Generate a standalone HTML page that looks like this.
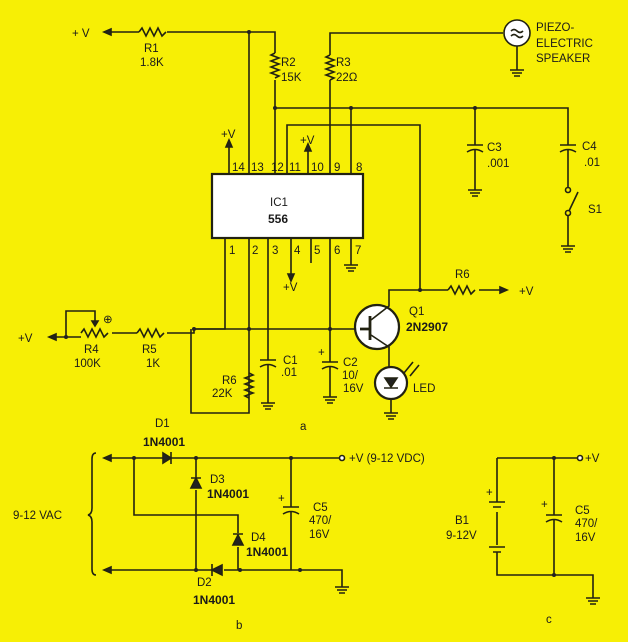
<!DOCTYPE html>
<html><head><style>
html,body{margin:0;padding:0;background:#fff}
svg{display:block}
text{font-family:"Liberation Sans",sans-serif;font-size:11.5px;fill:#1a1a1a}
.b{font-weight:bold;font-size:12px}
</style></head><body>
<svg width="639" height="642" viewBox="0 0 639 642" xmlns="http://www.w3.org/2000/svg">
<rect x="0" y="0" width="628" height="642" fill="#f7ef05"/>
<g stroke="#222211" stroke-width="1.6" fill="none">
<path d="M104 32 H139 M167 32 H275 V53 M275 80 V108 V174"/>
<path d="M104 32 l7 -3 v6 z" fill="#222"/>
<path d="M139 32 l3 -4 l4 8 l4 -8 l4 8 l4 -8 l4 8 l4 -4"/>
<path d="M249 32 V174"/>
<path d="M275 53 l-4 2 l8 3 l-8 3 l8 3 l-8 3 l8 3 l-8 3 l8 3 l-4 2"/>
<path d="M503 33 H330 V55 M330 80 V174"/>
<path d="M330 55 l-4 2 l8 3 l-8 3 l8 3 l-8 3 l8 3 l-8 3 l8 3 l-4 2"/>
<circle cx="517" cy="33" r="13" fill="#fff"/>
<path d="M511 31 q3 -3 6 0 t6 0 M511 36 q3 -3 6 0 t6 0"/>
<path d="M517 46 V70 M510 70 H524 M512 73 H522 M514 76 H520"/>
<path d="M275 108 H568 V145 M351 108 V174 M475 108 V145"/>
<path d="M467 145 H483 M467 152 q8 -5 16 0 M475 150 V190 M468 190 H482 M470 193 H480 M472 196 H478"/>
<path d="M560 145 H576 M560 152 q8 -5 16 0 M568 150 V187"/>
<circle cx="568" cy="190" r="2.5"/><circle cx="568" cy="213" r="2.5"/>
<path d="M569 211 L578 192 M568 216 V246 M561 246 H575 M563 249 H573 M565 252 H571"/>
<path d="M287 174 V125 H420 V290"/>
<rect x="212" y="174" width="151" height="64" fill="#fff" stroke-width="2.2"/>
<path d="M229 174 V146 M308 174 V150"/>
<path d="M229 140 l-3 7 h6 z M308 144 l-3 7 h6 z" fill="#222"/>
<path d="M225 238 V329 H194 M249 238 V413 H191 V329 M268 238 V360 M291 238 V275 M311 238 V263 M330 238 V362 M351 238 V265"/>
<path d="M291 281 l-3 -7 h6 z" fill="#222"/>
<path d="M344 265 H358 M346 268 H356 M348 271 H354"/>
<path d="M49 337 H81 M112 333 H137 M167 333 H194 V329 H360"/>
<path d="M49 337 l7 -3 v6 z" fill="#222"/>
<path d="M66 337 V311 H95 V326 M81 333 l3 -4 l4 8 l4 -8 l4 8 l4 -8 l4 8 l4 -4"/>
<path d="M95 326 l-3 -5 h6 z" fill="#222"/>
<path d="M137 333 l3 -4 l4 8 l4 -8 l4 8 l4 -8 l4 8 l4 -4"/>
<path d="M249 373 l4 2 l-8 3 l8 3 l-8 3 l8 3 l-8 3 l8 3 l-8 3 l4 2"/>
<path d="M260 360 H276 M260 367 q8 -5 16 0 M268 365 V403 M261 403 H275 M263 406 H273 M265 409 H271"/>
<path d="M322 362 H338 M322 369 q8 -5 16 0 M330 367 V397 M323 397 H337 M325 400 H335 M327 403 H333"/>
<circle cx="377" cy="327" r="22" fill="#fff" stroke-width="2.2"/>
<path d="M360 329 H370 M370 316 V340" stroke-width="2.8"/>
<path d="M371 320 L389 306 V290 H448 M371 335 L389 347 V367"/>
<path d="M479 290 H507 M448 290 l3 -4 l4 8 l4 -8 l4 8 l4 -8 l4 8 l4 -4"/>
<path d="M507 290 l-7 -3 v6 z" fill="#222"/>
<circle cx="391" cy="383" r="16" fill="#fff" stroke-width="2.2"/>
<path d="M385 378 h12 l-6 9 z" fill="#222"/>
<path d="M384 388 H398 M391 399 V413 M384 413 H398 M386 416 H396 M388 419 H394"/>
<path d="M404 373 L413 362 M410 376 L419 365"/>
<path d="M104 458 H163 M171 458 H340 M134 458 V515 H238 V533 M238 547 V570 M196 458 V478 M196 490 V570 M104 570 H212 M224 570 H342 V587 M291 458 V507 M291 512 V570"/>
<path d="M104 458 l7 -3 v6 z M104 570 l7 -3 v6 z" fill="#222"/>
<path d="M163 453 v10 l8 -5 z M196 478 l-5 10 h10 z M238 535 l-5 10 h10 z M212 570 l10 -5 v10 z" fill="#222"/>
<path d="M171 452 v12 M191 478 h10 M233 534 h10 M212 564 v12"/>
<path d="M283 507 H299 M283 514 q8 -5 16 0 M335 587 H349 M337 590 H347 M339 593 H345"/>
<circle cx="342" cy="458" r="2.5" fill="#fff"/>
<path d="M96 453 q-4 0 -4 6 V508 q0 6 -4 7 q4 1 4 7 V569 q0 6 4 6"/>
<path d="M497 458 H577 M554 458 V515 M554 520 V575 M497 458 V502 M497 552 V575 H593 V598 M489 502 H505 M493 507 H501 M497 512 V545 M489 547 H505 M493 552 H501 M546 515 H562 M546 522 q8 -5 16 0 M586 598 H600 M588 601 H598 M590 604 H596" />
<circle cx="580" cy="458" r="2.5" fill="#fff"/>
</g>
<g fill="#222">
<circle cx="249" cy="32" r="2"/><circle cx="275" cy="108" r="2"/><circle cx="351" cy="108" r="2"/><circle cx="475" cy="108" r="2"/>
<circle cx="194" cy="329" r="2"/><circle cx="249" cy="329" r="2"/><circle cx="330" cy="329" r="2"/><circle cx="420" cy="290" r="2"/><circle cx="66" cy="337" r="2"/>
<circle cx="134" cy="458" r="2"/><circle cx="196" cy="458" r="2"/><circle cx="291" cy="458" r="2"/><circle cx="196" cy="570" r="2"/><circle cx="240" cy="570" r="2"/><circle cx="300" cy="570" r="2"/>
<circle cx="554" cy="458" r="2"/><circle cx="554" cy="575" r="2"/>
</g>
<text x="72" y="37">+ V</text>
<text x="144" y="52">R1</text><text x="140" y="66">1.8K</text>
<text x="281" y="66">R2</text><text x="281" y="81">15K</text>
<text x="336" y="66">R3</text><text x="336" y="81">22Ω</text>
<text x="536" y="31">PIEZO-</text><text x="536" y="47">ELECTRIC</text><text x="536" y="62">SPEAKER</text>
<text x="487" y="151">C3</text><text x="487" y="167">.001</text>
<text x="582" y="150">C4</text><text x="584" y="166">.01</text>
<text x="588" y="213">S1</text>
<text x="221" y="138">+V</text><text x="300" y="144">+V</text>
<text x="232" y="171" font-size="10">14</text><text x="251" y="171" font-size="10">13</text><text x="271" y="171" font-size="10">12</text><text x="289" y="171" font-size="10">11</text><text x="311" y="171" font-size="10">10</text><text x="334" y="171" font-size="10">9</text><text x="356" y="171" font-size="11">8</text>
<text x="229" y="254" font-size="11">1</text><text x="252" y="254" font-size="11">2</text><text x="272" y="254" font-size="11">3</text><text x="294" y="254" font-size="11">4</text><text x="314" y="254" font-size="11">5</text><text x="334" y="254" font-size="11">6</text><text x="355" y="254" font-size="11">7</text>
<text x="270" y="206" font-size="14">IC1</text><text x="268" y="223" class="b" font-size="14">556</text>
<text x="283" y="291">+V</text>
<text x="455" y="278">R6</text><text x="519" y="295">+V</text>
<text x="409" y="315">Q1</text><text x="406" y="331" class="b" font-size="13">2N2907</text>
<text x="18" y="342">+V</text>
<text x="84" y="353">R4</text><text x="74" y="367">100K</text>
<text x="142" y="353">R5</text><text x="146" y="367">1K</text>
<text x="103" y="323" font-size="9">⊕</text>
<text x="283" y="364">C1</text><text x="281" y="376">.01</text>
<text x="318" y="356">+</text><text x="343" y="366">C2</text><text x="342" y="379">10/</text><text x="343" y="392">16V</text>
<text x="222" y="384">R6</text><text x="212" y="397">22K</text>
<text x="413" y="392">LED</text>
<text x="300" y="430">a</text>
<text x="155" y="427">D1</text><text x="143" y="446" class="b">1N4001</text>
<text x="349" y="462">+V (9-12 VDC)</text>
<text x="210" y="483">D3</text><text x="207" y="498" class="b">1N4001</text>
<text x="251" y="541">D4</text><text x="246" y="556" class="b">1N4001</text>
<text x="197" y="586">D2</text><text x="193" y="604" class="b">1N4001</text>
<text x="13" y="519">9-12 VAC</text>
<text x="278" y="502">+</text><text x="313" y="511">C5</text><text x="309" y="524">470/</text><text x="309" y="538">16V</text>
<text x="236" y="629">b</text>
<text x="585" y="462">+V</text>
<text x="486" y="496">+</text><text x="455" y="524">B1</text><text x="446" y="539">9-12V</text>
<text x="541" y="508">+</text><text x="575" y="514">C5</text><text x="575" y="527">470/</text><text x="575" y="541">16V</text>
<text x="546" y="623">c</text>
</svg>
</body></html>
